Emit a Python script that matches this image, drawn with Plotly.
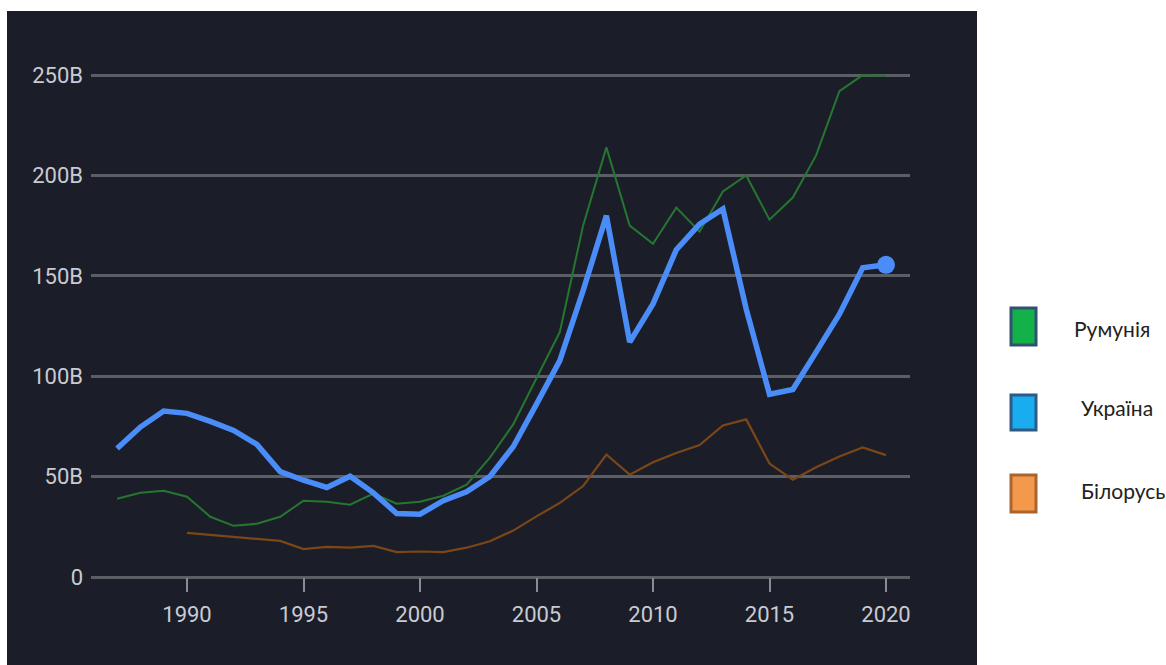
import plotly.graph_objects as go

years_ro = list(range(1987, 2021))
romania = [39, 42, 43, 40, 30, 25.5, 26.5, 30, 38, 37.5, 36, 41.5, 36.5, 37.5,
           40.5, 46, 59.5, 76, 99, 122, 175, 214, 175, 166, 184, 172, 192, 200,
           178, 189, 210, 242, 250, 249.5]

years_ua = list(range(1987, 2021))
ukraine = [64, 74.7, 82.7, 81.5, 77.5, 73, 66, 52.5, 48.2, 44.6, 50.2, 41.9, 31.6,
           31.3, 38, 42.4, 50.1, 64.9, 86.1, 107.8, 142.7, 180, 117, 136, 163,
           175.8, 183.3, 133.5, 91, 93.4, 112, 130.9, 154, 155.5]

years_by = list(range(1990, 2021))
belarus = [22, 21, 20, 19, 18, 13.9, 15, 14.6, 15.5, 12.4, 12.7, 12.4, 14.6, 17.8,
           23.1, 30.2, 36.9, 45.3, 61, 51, 57.2, 61.8, 65.7, 75.5, 78.5, 56.5,
           48.5, 54.7, 60, 64.5, 60.7]

legend_names = ["Румунія", "Україна", "Білорусь"]
legend_fill = ["#14b04a", "#19acf0", "#f4994c"]
legend_edge = ["#2f5270", "#2f5a86", "#a8662e"]

y_tickvals = [0, 50, 100, 150, 200, 250]
y_ticktext = ["0", "50B", "100B", "150B", "200B", "250B"]
x_tickvals = [1990, 1995, 2000, 2005, 2010, 2015, 2020]

W, H = 1166, 665
ML, MR, MT, MB = 91, 256, 51, 88
PW, PH = W - ML - MR, H - MT - MB


def px(xp):
    return (xp - ML) / PW


def py(yp):
    return (H - MB - yp) / PH


fig = go.Figure()
fig.add_trace(go.Scatter(x=years_ro, y=romania, mode="lines", name=legend_names[0],
                         line=dict(color="#25762f", width=2), showlegend=False))
fig.add_trace(go.Scatter(x=years_by, y=belarus, mode="lines", name=legend_names[2],
                         line=dict(color="#7c4716", width=2.2), showlegend=False))
fig.add_trace(go.Scatter(x=years_ua, y=ukraine, mode="lines", name=legend_names[1],
                         line=dict(color="#4b8df8", width=5.5), showlegend=False))
fig.add_trace(go.Scatter(x=years_ua[-1:], y=ukraine[-1:], mode="markers",
                         marker=dict(color="#4b8df8", size=18), showlegend=False,
                         hoverinfo="skip"))

shapes = [dict(type="rect", xref="paper", yref="paper", layer="below",
               x0=px(7), x1=px(977), y0=py(11), y1=py(665),
               fillcolor="#1b1e29", line=dict(width=0))]
annotations = []
box_y = [(308, 345), (395, 430), (475, 512)]
text_x = [1072, 1079, 1079]
text_y = [328, 407, 490]
for i in range(3):
    shapes.append(dict(type="rect", xref="paper", yref="paper",
                       x0=px(1011), x1=px(1036), y0=py(box_y[i][1]), y1=py(box_y[i][0]),
                       fillcolor=legend_fill[i],
                       line=dict(color=legend_edge[i], width=3)))
    annotations.append(dict(xref="paper", yref="paper", x=px(text_x[i]), y=py(text_y[i]),
                            text=legend_names[i], showarrow=False, xanchor="left",
                            yanchor="middle",
                            font=dict(family="Lato, Open Sans, sans-serif", size=21,
                                      color="#222222")))

tick_font = dict(family="Roboto, Arial, sans-serif", size=22, color="#c9cbd1")

fig.update_layout(
    width=W, height=H,
    margin=dict(l=ML, r=MR, t=MT, b=MB, pad=0),
    paper_bgcolor="white", plot_bgcolor="rgba(0,0,0,0)",
    shapes=shapes, annotations=annotations, showlegend=False,
    xaxis=dict(range=[1985.88, 2021.03], tickvals=x_tickvals, ticks="outside",
               ticklen=14, tickwidth=2, tickcolor="#8a8c93", showgrid=False,
               zeroline=False, showline=False, tickfont=tick_font,
               ticklabelstandoff=4),
    yaxis=dict(range=[0, 262], tickvals=y_tickvals, ticktext=y_ticktext,
               showgrid=True, gridcolor="#5c5e66", gridwidth=2.5,
               zeroline=True, zerolinecolor="#5c5e66", zerolinewidth=2.5,
               showline=False, ticks="", tickfont=tick_font, ticklabelstandoff=7),
)

fig.write_html("out.html", config={"displayModeBar": False},
               post_script="document.body.style.margin='0';document.body.style.overflow='hidden';")
